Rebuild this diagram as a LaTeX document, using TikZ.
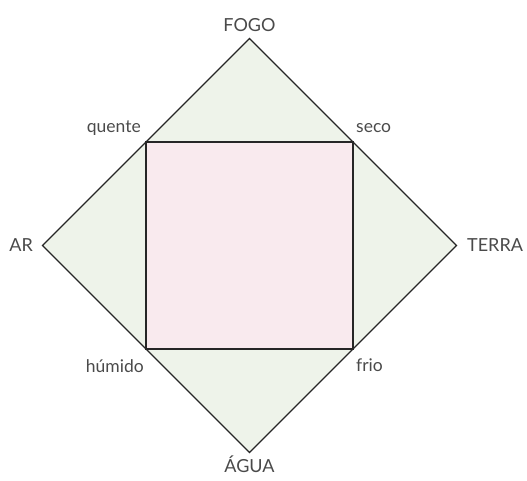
\documentclass[tikz,border=0pt]{standalone}
\usepackage{fontspec}
\setmainfont{Lato}
\usepackage{tikz}
\usetikzlibrary{positioning, calc}
\definecolor{elemgreen}{HTML}{EEF3EA}
\definecolor{qualpink}{HTML}{F9EAEE}
\definecolor{linegray}{HTML}{262626}
\definecolor{textgray}{HTML}{4A4A4A}
\tikzstyle{element} = [font=\fontsize{18}{21}\selectfont, text=textgray, inner sep=0pt, text depth=0pt]
\tikzstyle{quality} = [font=\fontsize{17.5}{20}\selectfont, text=textgray, inner sep=0pt, text depth=0pt]
\tikzstyle{edge} = [draw=linegray, line width=1.3pt, line join=miter]
\tikzstyle{box} = [draw=linegray, line width=1.8pt]

\begin{document}
\begin{tikzpicture}[x=1pt, y=1pt]
  \useasboundingbox (0,0) rectangle (527,481);

  % Corners of the diamond
  \coordinate (fire) at (249.5,442.5);
  \coordinate (earth) at (456.5,235.5);
  \coordinate (water) at (249.5,28.5);
  \coordinate (air) at (42.5,235.5);

  % Corners of the inner square
  \coordinate (hot) at ($(air)!0.5!(fire)$);
  \coordinate (dry) at ($(fire)!0.5!(earth)$);
  \coordinate (cold) at ($(earth)!0.5!(water)$);
  \coordinate (wet) at ($(water)!0.5!(air)$);

  \fill[elemgreen] (fire) -- (earth) -- (water) -- (air) -- cycle;
  \fill[qualpink] (hot) -- (dry) -- (cold) -- (wet) -- cycle;
  \draw[edge] (fire) -- (earth) -- (water) -- (air) -- cycle;
  \draw[box] (hot) -- (dry) -- (cold) -- (wet) -- cycle;

  % Elements
  \node[element, above=7pt of fire] (fogo) {FOGO};
  \node[element, right=10.5pt of earth] (terra) {TERRA};
  \node[element, below=3pt of water] (agua) {ÁGUA};
  \node[element, left=9.5pt of air] (ar) {AR};

  % Qualities
  \node[quality, above left=9pt and 5pt of hot] (quente) {quente};
  \node[quality, above right=9pt and 3pt of dry] (seco) {seco};
  \node[quality, below right=10pt and 3pt of cold] (frio) {frio};
  \node[quality, below left=10pt and 2pt of wet] (humido) {húmido};
\end{tikzpicture}
\end{document}
